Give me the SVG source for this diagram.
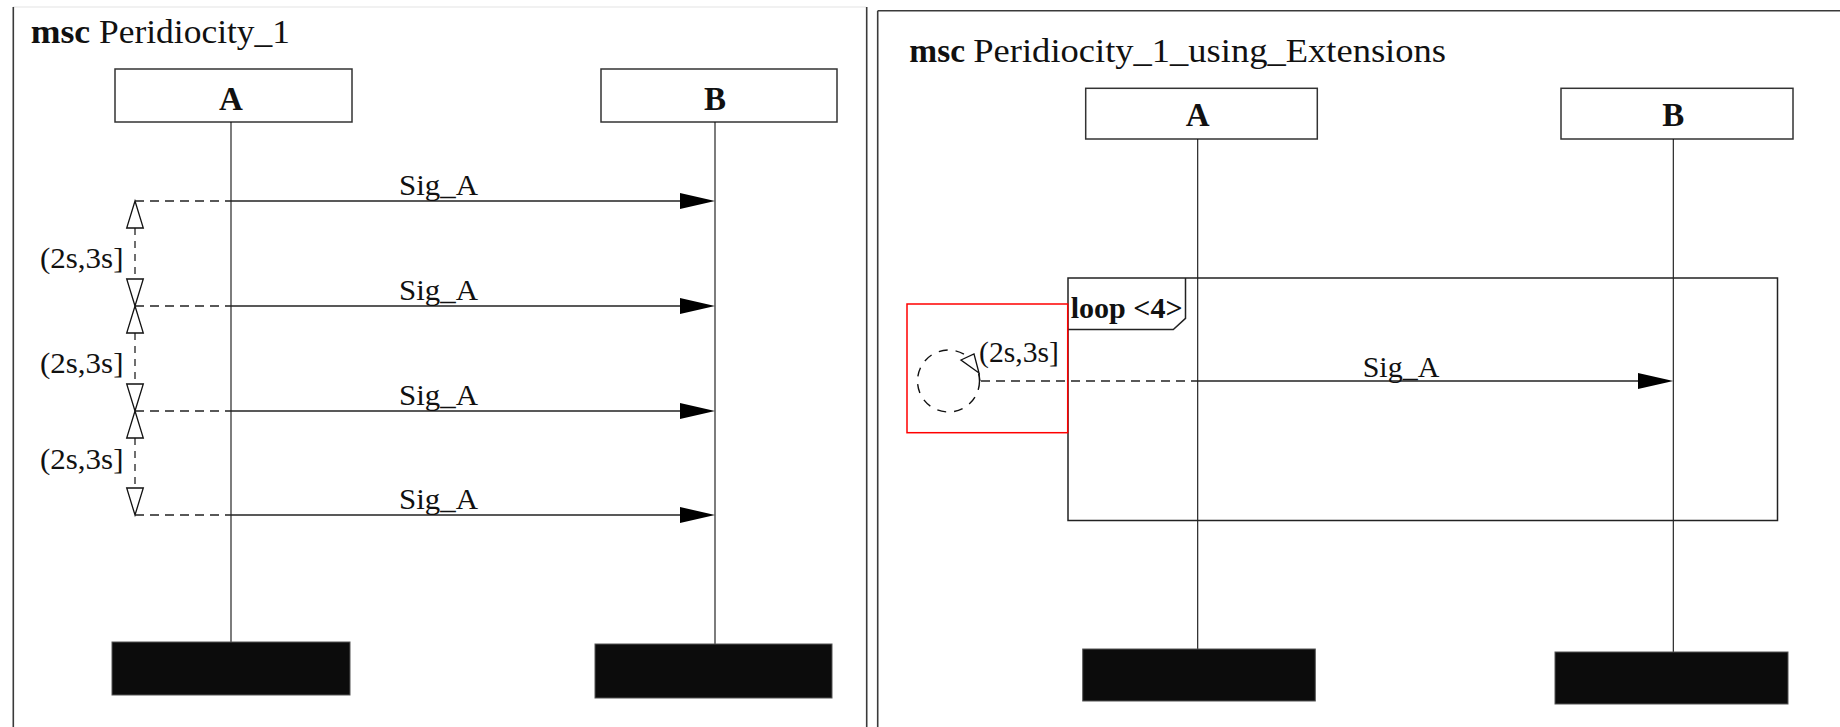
<svg xmlns="http://www.w3.org/2000/svg" width="1840" height="727" viewBox="0 0 1840 727">
  <style>
    .bg { fill: #ffffff; }
    .frame { stroke: #3a3a3a; stroke-width: 1.6; fill: none; }
    .faint { stroke: #e4e4e4; stroke-width: 1.2; fill: none; }
    .head { fill: #ffffff; stroke: #333333; stroke-width: 1.5; }
    .life { stroke: #111111; stroke-width: 1.1; fill: none; }
    .stop { fill: #0c0c0c; stroke: #555555; stroke-width: 1; }
    .msg { stroke: #222222; stroke-width: 1.6; fill: none; }
    .dash { stroke: #222222; stroke-width: 1.5; fill: none; stroke-dasharray: 9 6; }
    .vdash { stroke: #222222; stroke-width: 1.3; fill: none; stroke-dasharray: 7 6; }
    .timer { fill: #ffffff; stroke: #111111; stroke-width: 1.3; stroke-linejoin: miter; }
    .arrow { fill: #000000; }
    .txt { font-family: "Liberation Serif", "Times New Roman", serif; fill: #111111; }
    .title { font-size: 33px; }
    .inst { font-size: 33px; font-weight: bold; text-anchor: middle; }
    .lbl { font-size: 30px; }
    .bold { font-weight: bold; }
    .loop { stroke: #222222; stroke-width: 1.5; fill: none; }
    .mark { stroke: #ff0000; stroke-width: 1.5; fill: none; }
  </style>

  <rect class="bg" x="0" y="0" width="1840" height="727"/>

  <!-- left chart: msc Peridiocity_1 -->
  <g id="left-frame">
    <line class="faint" x1="13" y1="7" x2="866" y2="7"/>
    <line class="frame" x1="13.3" y1="7" x2="13.3" y2="727"/>
    <line class="frame" x1="866.7" y1="7" x2="866.7" y2="727"/>
    <text class="txt title bold" x="30.7" y="43.3" textLength="59.5" lengthAdjust="spacingAndGlyphs">msc</text>
    <text class="txt title" x="99" y="43.3" textLength="191" lengthAdjust="spacingAndGlyphs">Peridiocity_1</text>
  </g>

  <g id="left-A">
    <rect class="head" x="115" y="69" width="237" height="53"/>
    <text class="txt inst" x="231" y="109.5">A</text>
    <line class="life" x1="231" y1="122" x2="231" y2="642"/>
    <rect class="stop" x="112" y="642" width="238" height="53"/>
  </g>

  <g id="left-B">
    <rect class="head" x="601" y="69" width="236" height="53"/>
    <text class="txt inst" x="715" y="109.5">B</text>
    <line class="life" x1="715" y1="122" x2="715" y2="644"/>
    <rect class="stop" x="595" y="644" width="237" height="54"/>
  </g>

  <g id="left-messages">
    <!-- Sig_A 1 -->
    <line class="dash" x1="135" y1="201" x2="231" y2="201"/>
    <line class="msg" x1="231" y1="201" x2="682" y2="201"/>
    <polygon class="arrow" points="680,193 715,201 680,209"/>
    <text class="txt lbl" x="399" y="195" textLength="79" lengthAdjust="spacingAndGlyphs">Sig_A</text>
    <!-- Sig_A 2 -->
    <line class="dash" x1="135" y1="306" x2="231" y2="306"/>
    <line class="msg" x1="231" y1="306" x2="682" y2="306"/>
    <polygon class="arrow" points="680,298 715,306 680,314"/>
    <text class="txt lbl" x="399" y="300" textLength="79" lengthAdjust="spacingAndGlyphs">Sig_A</text>
    <!-- Sig_A 3 -->
    <line class="dash" x1="135" y1="411" x2="231" y2="411"/>
    <line class="msg" x1="231" y1="411" x2="682" y2="411"/>
    <polygon class="arrow" points="680,403 715,411 680,419"/>
    <text class="txt lbl" x="399" y="405" textLength="79" lengthAdjust="spacingAndGlyphs">Sig_A</text>
    <!-- Sig_A 4 -->
    <line class="dash" x1="135" y1="515" x2="231" y2="515"/>
    <line class="msg" x1="231" y1="515" x2="682" y2="515"/>
    <polygon class="arrow" points="680,507 715,515 680,523"/>
    <text class="txt lbl" x="399" y="509" textLength="79" lengthAdjust="spacingAndGlyphs">Sig_A</text>
  </g>

  <g id="left-timers">
    <!-- interval 1 -->
    <line class="vdash" x1="135" y1="228" x2="135" y2="279"/>
    <polygon class="timer" points="135,201 143.3,228 126.7,228"/>
    <polygon class="timer" points="135,306 143.3,279 126.7,279"/>
    <text class="txt lbl" x="40" y="268" textLength="83.5" lengthAdjust="spacingAndGlyphs">(2s,3s]</text>
    <!-- interval 2 -->
    <line class="vdash" x1="135" y1="333" x2="135" y2="384"/>
    <polygon class="timer" points="135,306 143.3,333 126.7,333"/>
    <polygon class="timer" points="135,411 143.3,384 126.7,384"/>
    <text class="txt lbl" x="40" y="373" textLength="83.5" lengthAdjust="spacingAndGlyphs">(2s,3s]</text>
    <!-- interval 3 -->
    <line class="vdash" x1="135" y1="438" x2="135" y2="488"/>
    <polygon class="timer" points="135,411 143.3,438 126.7,438"/>
    <polygon class="timer" points="135,515 143.3,488 126.7,488"/>
    <text class="txt lbl" x="40" y="468.5" textLength="83.5" lengthAdjust="spacingAndGlyphs">(2s,3s]</text>
  </g>

  <!-- right chart: msc Peridiocity_1_using_Extensions -->
  <g id="right-frame">
    <line class="frame" x1="877.7" y1="10.7" x2="1840" y2="10.7"/>
    <line class="frame" x1="877.7" y1="10.7" x2="877.7" y2="727"/>
    <text class="txt title bold" x="909.3" y="61.7" textLength="55.7" lengthAdjust="spacingAndGlyphs">msc</text>
    <text class="txt title" x="973.3" y="61.7" textLength="472.7" lengthAdjust="spacingAndGlyphs">Peridiocity_1_using_Extensions</text>
  </g>

  <g id="right-A">
    <rect class="head" x="1085.7" y="88.3" width="231.6" height="50.7"/>
    <text class="txt inst" x="1197.7" y="126">A</text>
    <line class="life" x1="1197.7" y1="139" x2="1197.7" y2="649"/>
    <rect class="stop" x="1082.7" y="649" width="232.6" height="52"/>
  </g>

  <g id="right-B">
    <rect class="head" x="1561" y="88.3" width="232" height="50.7"/>
    <text class="txt inst" x="1673.3" y="126">B</text>
    <line class="life" x1="1673.3" y1="139" x2="1673.3" y2="652"/>
    <rect class="stop" x="1555" y="652" width="233" height="52"/>
  </g>

  <g id="loop-frame">
    <rect class="loop" x="1068" y="278" width="709.5" height="242.5"/>
    <path class="loop" d="M1068,329.5 H1173.3 L1185.5,318.3 V278"/>
    <text class="txt bold" x="1070.7" y="318.3" font-size="29" textLength="112" lengthAdjust="spacingAndGlyphs">loop &lt;4&gt;</text>
  </g>

  <g id="periodic-timer">
    <rect class="mark" x="907" y="304" width="160.7" height="128.7"/>
    <circle cx="948.5" cy="381" r="31" fill="none" stroke="#111111" stroke-width="1.4" stroke-dasharray="9 8"/>
    <polygon class="timer" points="961,360 974,354 979,373"/>
    <line class="life" x1="979" y1="373" x2="980" y2="381"/>
    <text class="txt" x="979" y="361.7" font-size="29" textLength="80" lengthAdjust="spacingAndGlyphs">(2s,3s]</text>
  </g>

  <g id="right-messages">
    <line class="dash" x1="981" y1="381" x2="1197.7" y2="381"/>
    <line class="msg" x1="1197.7" y1="381" x2="1640" y2="381"/>
    <polygon class="arrow" points="1638,373 1673.3,381 1638,389"/>
    <text class="txt lbl" x="1362.7" y="376.7" textLength="76.6" lengthAdjust="spacingAndGlyphs">Sig_A</text>
  </g>
</svg>
